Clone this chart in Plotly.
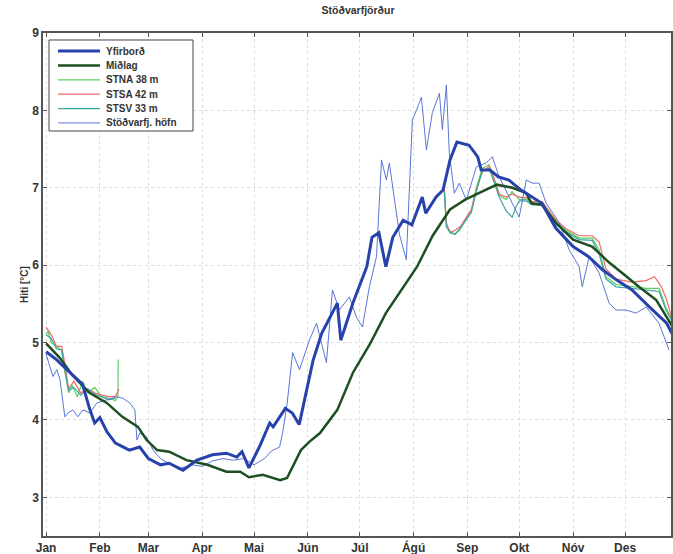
import plotly.graph_objects as go

# day of year (0 = 1. jan) and temperature [°C]
months = ["Jan", "Feb", "Mar", "Apr", "Mai", "Jún", "Júl", "Ágú", "Sep", "Okt", "Nóv", "Des"]
month_start = [0, 31, 59, 90, 120, 151, 181, 212, 243, 273, 304, 334]

yfirbord_day = [0, 6, 12, 18, 21, 25, 28, 31, 35, 40, 48, 54, 59, 66, 71, 77, 79, 87, 96,
                104, 110, 113, 117, 123, 129, 131, 138, 142, 146, 154, 159, 168, 170, 177,
                185, 188, 192, 196, 200, 206, 211, 217, 219, 225, 229, 233, 237, 244, 249,
                251, 256, 261, 267, 274, 286, 294, 304, 313, 321, 329, 338, 348, 358, 361]
yfirbord = [4.88, 4.78, 4.65, 4.52, 4.46, 4.15, 3.96, 4.03, 3.85, 3.7, 3.61, 3.65, 3.5, 3.42,
            3.44, 3.37, 3.35, 3.48, 3.55, 3.57, 3.52, 3.59, 3.38, 3.65, 3.96, 3.91, 4.15, 4.09,
            3.94, 4.77, 5.12, 5.51, 5.03, 5.51, 5.98, 6.36, 6.42, 5.98, 6.36, 6.58, 6.52, 6.88,
            6.67, 6.88, 6.97, 7.36, 7.59, 7.55, 7.40, 7.23, 7.23, 7.14, 7.10, 6.97, 6.80, 6.48,
            6.24, 6.11, 5.94, 5.81, 5.68, 5.46, 5.25, 5.12]

midlag_day = [0, 8, 15, 25, 35, 44, 53, 58, 64, 71, 81, 93, 104, 112, 117, 125, 135, 139,
              147, 152, 158, 168, 177, 187, 196, 206, 214, 223, 233, 242, 254, 260, 269, 277,
              280, 286, 294, 304, 315, 325, 335, 342, 352, 361]
midlag = [4.99, 4.8, 4.58, 4.35, 4.22, 4.04, 3.91, 3.74, 3.61, 3.59, 3.48, 3.42, 3.33, 3.33,
          3.26, 3.29, 3.22, 3.25, 3.61, 3.72, 3.83, 4.13, 4.61, 4.99, 5.38, 5.72, 5.98, 6.38,
          6.72, 6.85, 6.97, 7.04, 7.0, 6.93, 6.8, 6.78, 6.55, 6.33, 6.24, 6.03, 5.85, 5.72,
          5.55, 5.22]

stna_day = [0, 1, 3, 6, 9, 11, 13, 15, 18, 21, 24, 28, 32, 36, 40, 41.4, 41.6, None,
            229.7, 230.9, 232.6, 235.5, 238.4, 242.4, 245.3, 248.2, 251.6, 255.6, 258.5,
            261.4, 265.4, 268.9, 272.9, 277, 280.4, 286.2, 294.3, 300, 307.5, 315, 319, 323,
            328.8, 338, 346.1, 353.6, 357.6, 361]
stna = [5.1, 5.15, 5.0, 4.95, 4.9, 4.6, 4.35, 4.45, 4.3, 4.5, 4.35, 4.42, 4.3, 4.28, 4.25,
        4.3, 4.78, None,
        7.0, 6.5, 6.45, 6.4, 6.45, 6.6, 6.7, 7.0, 7.25, 7.3, 7.1, 6.9, 6.85, 6.95, 6.85,
        6.85, 6.8, 6.8, 6.55, 6.45, 6.35, 6.35, 6.2, 5.85, 5.75, 5.72, 5.7, 5.7, 5.45, 5.3]

stsa_day = [0, 3, 6, 9, 11, 13, 16, 20, 24, 28, 32, 36, 40, 42, None,
            229.7, 230.9, 233, 236, 239, 242.4, 245.3, 248.2, 251.6, 255.6, 258.5, 261.4,
            265.4, 268.9, 272.9, 277, 280.4, 286.2, 294.3, 300, 307.5, 315, 319, 323, 328.8,
            338, 346.1, 351, 355, 358, 361]
stsa = [5.2, 5.1, 4.95, 4.95, 4.7, 4.4, 4.5, 4.35, 4.4, 4.35, 4.32, 4.3, 4.3, 4.4, None,
        7.0, 6.55, 6.42, 6.45, 6.5, 6.62, 6.72, 6.98, 7.2, 7.28, 7.12, 6.92, 6.88, 6.92,
        6.88, 6.87, 6.82, 6.82, 6.58, 6.47, 6.38, 6.38, 6.3, 5.95, 5.82, 5.78, 5.8, 5.85,
        5.72, 5.55, 5.32]

stsv_day = [0, 3, 6, 9, 11, 13, 16, 20, 24, 28, 32, 36, 40, None,
            229.7, 230.9, 233, 236, 239, 242.4, 245.3, 248.2, 251.6, 255.6, 258.5, 261.4,
            265.4, 268.9, 271, 272.9, 277, 280.4, 286.2, 294.3, 300, 307.5, 315, 319, 323,
            328.8, 338, 346.1, 353.6, 357.6, 361]
stsv = [5.1, 5.05, 4.92, 4.9, 4.62, 4.38, 4.42, 4.32, 4.4, 4.33, 4.3, 4.26, 4.28, None,
        6.95, 6.5, 6.42, 6.4, 6.48, 6.58, 6.68, 6.95, 7.22, 7.25, 7.05, 6.88, 6.7, 6.62,
        6.75, 6.83, 6.83, 6.78, 6.78, 6.52, 6.43, 6.33, 6.32, 6.15, 5.82, 5.72, 5.7, 5.68,
        5.66, 5.42, 5.28]

hofn_day = [0, 2.2, 3.9, 6.2, 8, 10.8, 12.6, 15.4, 18.3, 21.2, 25.2, 29.3, 35, 40.8, 44.2,
            48.3, 51.2, 52.4, 54, 58, 61.7, 66, 72, 78, 84, 90, 96, 102, 108, 114, 120, 126,
            130, 134.7, 136.4, 139, 142.2, 146.2, 151.9, 156, 161.7, 165.2, 169.2, 174.9,
            179, 182.5, 186.5, 190.6, 193.5, 196.3, 198, 200.9, 203.8, 207.8, 211.3, 213.6,
            216.5, 219.4, 222.8, 226.9, 228.6, 230.9, 232.6, 235.5, 238.4, 242.4, 248.2,
            253.9, 257.4, 261.4, 268.9, 272.9, 277, 280.4, 284.4, 288.5, 296, 301.7, 307.5,
            309.3, 313.3, 319, 324.8, 328.8, 334.6, 340.4, 346.1, 353.6, 359.4]
hofn = [4.85, 4.69, 4.56, 4.65, 4.52, 4.04, 4.09, 4.13, 4.04, 4.13, 4.09, 4.22, 4.26, 4.30,
        4.28, 4.22, 4.13, 3.74, 3.83, 3.78, 3.61, 3.5, 3.42, 3.38, 3.42, 3.4, 3.47, 3.5,
        3.48, 3.5, 3.42, 3.5, 3.6, 3.65, 3.83, 4.2, 4.87, 4.65, 5.03, 5.25, 4.74, 5.68, 5.42,
        5.59, 5.33, 5.20, 5.72, 6.11, 7.36, 7.10, 7.32, 6.88, 6.4, 6.07, 7.88, 8.0, 8.17,
        7.49, 7.97, 8.22, 7.75, 8.33, 7.45, 6.93, 7.06, 6.84, 7.27, 7.32, 7.40, 7.14, 6.80,
        6.62, 7.10, 7.06, 7.06, 6.80, 6.55, 6.20, 5.98, 5.72, 6.11, 5.90, 5.51, 5.42, 5.42,
        5.38, 5.46, 5.25, 4.90]

# legend order and line styles
series = [
    ("Yfirborð", "#2742aa", 3),
    ("Miðlag", "#1d4f22", 2.5),
    ("STNA 38 m", "#5cd05c", 1.2),
    ("STSA 42 m", "#f06a6a", 1.2),
    ("STSV 33 m", "#3aa6a6", 1.2),
    ("Stöðvarfj. höfn", "#5a76d8", 1),
]
style = {name: dict(color=c, width=w) for name, c, w in series}

fig = go.Figure()

# stations first so the thick lines sit on top
fig.add_trace(go.Scatter(x=stna_day, y=stna, mode="lines", name="STNA 38 m",
                         line=style["STNA 38 m"]))
fig.add_trace(go.Scatter(x=stsa_day, y=stsa, mode="lines", name="STSA 42 m",
                         line=style["STSA 42 m"]))
fig.add_trace(go.Scatter(x=stsv_day, y=stsv, mode="lines", name="STSV 33 m",
                         line=style["STSV 33 m"]))
fig.add_trace(go.Scatter(x=hofn_day, y=hofn, mode="lines", name="Stöðvarfj. höfn",
                         line=style["Stöðvarfj. höfn"]))
fig.add_trace(go.Scatter(x=midlag_day, y=midlag, mode="lines", name="Miðlag",
                         line=style["Miðlag"]))
fig.add_trace(go.Scatter(x=yfirbord_day, y=yfirbord, mode="lines", name="Yfirborð",
                         line=style["Yfirborð"]))

# matlab-style legend box (plotly's own legend rows are too tall)
fig.add_shape(type="rect", xref="paper", yref="paper", x0=0.0096, x1=0.2389,
              y0=0.8052, y1=0.9861, fillcolor="white", line=dict(color="#444444", width=1),
              layer="above")
row_top, row_step = 0.9642, 0.0286
for i, (name, c, w) in enumerate(series):
    yy = row_top - i * row_step
    fig.add_shape(type="line", xref="paper", yref="paper", x0=0.0239, x1=0.0908,
                  y0=yy, y1=yy, line=dict(color=c, width=w), layer="above")
    fig.add_annotation(xref="paper", yref="paper", x=0.0971, y=yy, text=name,
                       showarrow=False, xanchor="left", yanchor="middle",
                       font=dict(family="Liberation Sans", size=10, color="#333333",
                                 weight="bold"))

font_bold = dict(family="Liberation Sans", size=12, color="#333333", weight="bold")

fig.update_layout(
    width=673, height=554,
    margin=dict(l=43, r=2, t=33, b=18),
    paper_bgcolor="white", plot_bgcolor="white",
    title=dict(text="Stöðvarfjörður", x=0.532, xanchor="center", y=0.982, yanchor="middle",
               font=dict(family="Liberation Sans", size=10.5, color="#333333", weight="bold")),
    font=font_bold,
    showlegend=False,
    xaxis=dict(range=[-1.8, 360.5], tickvals=month_start, ticktext=months,
               showline=True, linecolor="#555555", linewidth=1.5, mirror="ticks",
               ticks="inside", ticklen=4, tickcolor="#555555",
               showgrid=True, gridcolor="#dddddd", griddash="dot", gridwidth=1,
               zeroline=False, automargin=False, tickfont=font_bold),
    yaxis=dict(range=[2.5, 9], tickvals=[3, 4, 5, 6, 7, 8, 9],
               showline=True, linecolor="#555555", linewidth=1.5, mirror="ticks",
               ticks="inside", ticklen=4, tickcolor="#555555",
               showgrid=True, gridcolor="#dddddd", griddash="dot", gridwidth=1,
               zeroline=False, automargin=False, tickfont=font_bold,
               title=dict(text="Hiti [°C]", standoff=2,
                          font=dict(family="Liberation Sans", size=10, color="#333333",
                                    weight="bold"))),
)

# the page body margin would shift the figure 8px; keep it flush like the reference
fig.write_html("out.html", config={"displayModeBar": False},
               post_script="document.body.style.margin='0px';")
